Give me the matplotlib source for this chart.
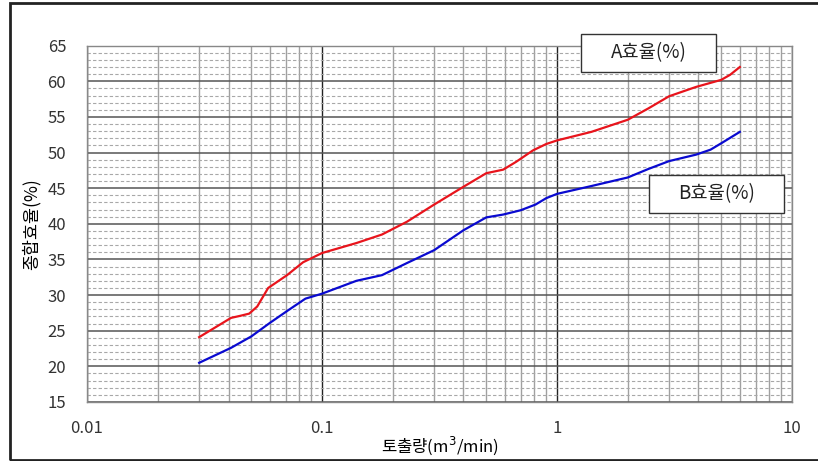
import matplotlib
matplotlib.use("Agg")
import matplotlib.pyplot as plt
from matplotlib.patches import Rectangle
from matplotlib.ticker import LogLocator, FixedLocator, NullFormatter

plt.rcParams['font.family'] = ['Noto Sans CJK KR', 'DejaVu Sans']

# 토출량 (m3/min) vs 종합효율 (%)
a_flow = [0.03, 0.041, 0.045, 0.049, 0.053, 0.059, 0.071, 0.083, 0.10, 0.14,
          0.18, 0.23, 0.30, 0.40, 0.50, 0.59, 0.67, 0.79, 0.90, 1.0,
          1.4, 2.0, 2.45, 3.0, 3.9, 5.0, 5.45, 6.0]
a_eff = [24.1, 26.8, 27.1, 27.4, 28.4, 31.0, 32.8, 34.6, 35.9, 37.3,
         38.5, 40.3, 42.7, 45.2, 47.1, 47.6, 48.7, 50.3, 51.2, 51.7,
         52.9, 54.6, 56.2, 57.9, 59.2, 60.2, 60.9, 62.0]

b_flow = [0.03, 0.041, 0.050, 0.060, 0.072, 0.085, 0.10, 0.14, 0.18, 0.23,
          0.30, 0.40, 0.50, 0.59, 0.70, 0.81, 0.90, 1.0, 1.4, 2.0,
          2.45, 3.0, 3.9, 4.5, 5.0, 6.0]
b_eff = [20.5, 22.6, 24.2, 26.1, 27.9, 29.5, 30.2, 32.0, 32.8, 34.5,
         36.3, 39.1, 40.9, 41.3, 41.9, 42.7, 43.6, 44.2, 45.3, 46.5,
         47.7, 48.8, 49.7, 50.4, 51.3, 52.9]

x_ticks = [0.01, 0.1, 1, 10]
x_ticklabels = ['0.01', '0.1', '1', '10']
y_ticks = [15, 20, 25, 30, 35, 40, 45, 50, 55, 60, 65]

W, H = 818, 461
fig = plt.figure(figsize=(W / 100, H / 100), dpi=100)
ax = fig.add_axes([0.1064, 0.128, 0.8618, 0.773])

ax.set_xscale('log')
ax.set_xlim(0.01, 10)
ax.set_ylim(15, 65)

# grid
ax.xaxis.set_major_locator(FixedLocator(x_ticks))
ax.xaxis.set_minor_locator(LogLocator(base=10, subs=range(2, 10)))
ax.xaxis.set_minor_formatter(NullFormatter())
ax.set_xticklabels(x_ticklabels)
ax.set_yticks(y_ticks)
ax.yaxis.set_minor_locator(FixedLocator([v for v in range(15, 66) if v % 5]))

ax.grid(which='major', axis='x', color='#222222', lw=1.0)
ax.grid(which='minor', axis='x', color='#a0a0a0', lw=1.0)
ax.grid(which='major', axis='y', color='#555555', lw=1.1)
ax.grid(which='minor', axis='y', color='#a8a8a8', lw=0.8, ls=(0, (3, 2)))
ax.set_axisbelow(True)

ax.tick_params(which='both', length=0)
ax.tick_params(axis='y', pad=15, labelsize=12, labelcolor='#333333')
ax.tick_params(axis='x', pad=13, labelsize=12, labelcolor='#333333')
for s in ax.spines.values():
    s.set_color('#888888')
    s.set_linewidth(1.0)

ax.plot(a_flow, a_eff, color='#e8141c', lw=1.6)
ax.plot(b_flow, b_eff, color='#0a0ad0', lw=1.6)

ax.set_ylabel('종합효율(%)', fontsize=12.5, labelpad=5)
ax.set_xlabel('토출량(m$^3$/min)', fontsize=12, labelpad=-2)

# label boxes (x0, y0 top, x1, y1 bottom in pixels)
for (x0, y0, x1, y1), txt in [((581, 34, 716, 72), 'A효율(%)'),
                              ((649, 175, 784, 213), 'B효율(%)')]:
    fig.patches.append(Rectangle((x0 / W, 1 - y1 / H), (x1 - x0) / W, (y1 - y0) / H,
                                 transform=fig.transFigure, fc='white',
                                 ec='#333333', lw=1.0, zorder=5))
    fig.text((x0 + x1) / 2 / W, 1 - (y0 + y1) / 2 / H, txt, fontsize=13.5,
             ha='center', va='center', color='#222222', zorder=6)

# outer frame
fig.patches.append(Rectangle((10 / W, 1 / H), 1.2, 457 / H, transform=fig.transFigure,
                             fill=False, ec='#222222', lw=2.0))

fig.savefig('out.png', dpi=100)
